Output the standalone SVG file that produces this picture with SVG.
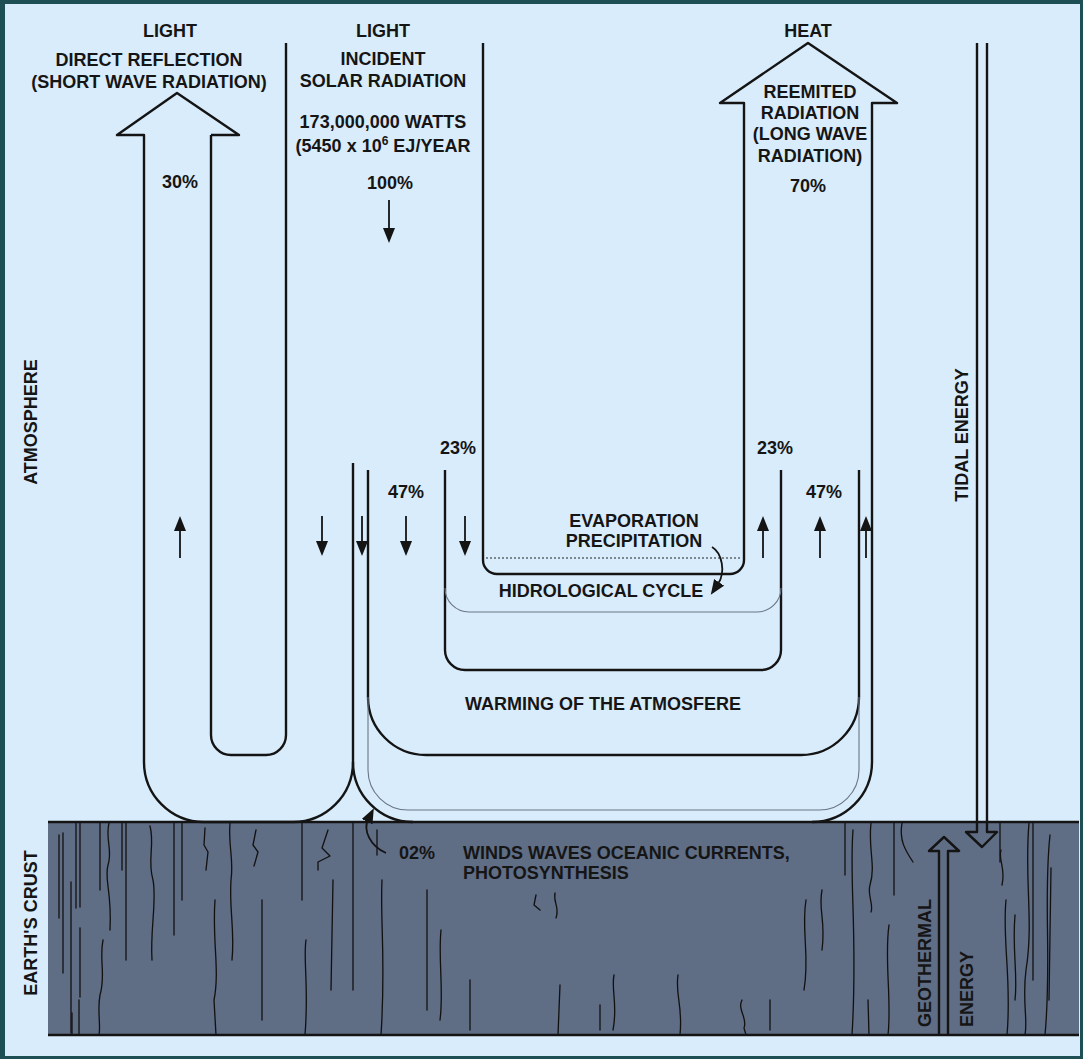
<svg xmlns="http://www.w3.org/2000/svg" width="1083" height="1059" viewBox="0 0 1083 1059">
<defs>
<style>
.ln{fill:none;stroke:#141414;stroke-width:2.4;stroke-linejoin:round}
.thin{fill:none;stroke:#6b7686;stroke-width:1.1}
.dot{fill:none;stroke:#222;stroke-width:1.2;stroke-dasharray:2 2}
.arr{fill:none;stroke:#141414;stroke-width:1.8;marker-end:url(#ah)}
.crk{fill:none;stroke:#111;stroke-width:1.3;stroke-linecap:round;stroke-linejoin:round}
text{font-family:"Liberation Sans",Arial,sans-serif;font-weight:bold;font-size:18px;fill:#151515}
.m{text-anchor:middle}
</style>
<marker id="ah" viewBox="0 -6 15 12" markerWidth="15" markerHeight="12" refX="2" refY="0" orient="auto" markerUnits="userSpaceOnUse">
<path d="M0,-6 L15,0 L0,6 z" fill="#141414"/>
</marker>
</defs>

<rect x="0" y="0" width="1083" height="1059" fill="#1e4f55"/>
<rect x="5" y="4" width="1075" height="1052" fill="#d9ecfb"/>

<g id="earths-crust">
<rect x="48" y="822" width="1031" height="213" fill="#5f6d85"/>
<g id="cracks">
<path class="crk" d="M59,835 L59,918"/>
<path class="crk" d="M63,833 L63,973"/>
<path class="crk" d="M71,882 L71,1033"/>
<path class="crk" d="M76,823 L76,908"/>
<path class="crk" d="M80,823 L80,907"/>
<path class="crk" d="M80,928 L80,997"/>
<path class="crk" d="M79,1000 L79,1035"/>
<path class="crk" d="M72,1013 L72,1035"/>
<path class="crk" d="M100,823 L100,890"/>
<path class="crk" d="M109,823 C105,840 113,850 108,865 C104,880 112,890 110,930"/>
<path class="crk" d="M103,940 C99,960 106,975 100,995 C97,1010 101,1025 99,1035"/>
<path class="crk" d="M122,823 L122,870"/>
<path class="crk" d="M126,823 L126,960"/>
<path class="crk" d="M150,826 C155,845 147,860 153,880 C157,900 150,930 152,960"/>
<path class="crk" d="M174,823 L174,935"/>
<path class="crk" d="M182,823 L182,900"/>
<path class="crk" d="M205,828 L204,845 L208,852 L206,870"/>
<path class="crk" d="M215,900 C212,940 220,970 214,1000 L216,1035"/>
<path class="crk" d="M230,823 C228,845 234,860 231,880 C229,910 235,930 232,960"/>
<path class="crk" d="M256,830 L253,845 L258,852 L254,866"/>
<path class="crk" d="M262,900 L262,1020"/>
<path class="crk" d="M302,823 L302,900"/>
<path class="crk" d="M306,940 C303,960 309,985 305,1035"/>
<path class="crk" d="M328,830 L322,848 L330,856 L318,862 L318,870"/>
<path class="crk" d="M333,880 L331,990"/>
<path class="crk" d="M353,823 L353,990"/>
<path class="crk" d="M377,830 L377,855"/>
<path class="crk" d="M382,880 C380,920 386,960 381,1035"/>
<path class="crk" d="M427,890 L427,1010"/>
<path class="crk" d="M441,930 C438,960 444,990 440,1020"/>
<path class="crk" d="M470,980 L470,1030"/>
<path class="crk" d="M536,895 L534,905 L540,910"/>
<path class="crk" d="M555,893 C553,903 560,907 556,918"/>
<path class="crk" d="M560,985 L558,1035"/>
<path class="crk" d="M600,1005 L600,1030"/>
<path class="crk" d="M614,975 C611,990 618,1005 613,1030"/>
<path class="crk" d="M678,975 C675,995 683,1005 680,1035"/>
<path class="crk" d="M742,1000 C737,1010 748,1018 744,1028 L746,1035"/>
<path class="crk" d="M770,1000 L770,1030"/>
<path class="crk" d="M806,900 C801,930 810,955 804,990"/>
<path class="crk" d="M822,890 C818,910 826,920 822,950"/>
<path class="crk" d="M845,823 L845,875"/>
<path class="crk" d="M853,830 C849,880 858,940 852,1035"/>
<path class="crk" d="M871,823 C868,850 876,865 870,885 C867,895 874,905 871,912"/>
<path class="crk" d="M868,1000 L869,1035"/>
<path class="crk" d="M889,925 C884,960 892,1000 888,1035"/>
<path class="crk" d="M902,823 C899,840 905,850 913,862"/>
<path class="crk" d="M894,823 L894,895"/>
<path class="crk" d="M1001,850 C998,860 1006,868 1002,885"/>
<path class="crk" d="M1000,823 L1000,862"/>
<path class="crk" d="M1006,900 C1002,940 1012,980 1007,1035"/>
<path class="crk" d="M1015,915 C1012,950 1018,975 1015,1000"/>
<path class="crk" d="M1029,823 C1024,880 1034,920 1026,970 C1022,1000 1028,1020 1025,1035"/>
<path class="crk" d="M1033,823 L1033,980"/>
<path class="crk" d="M1050,835 C1043,900 1052,960 1045,1035"/>
<path class="crk" d="M1051,868 L1049,1000"/>
</g>
<path class="ln" d="M48,822 L1079,822"/>
<path class="ln" d="M48,1035 L1079,1035"/>
</g>

<g id="direct-reflection">
<path class="ln" d="M211,135 L239,135 L177,93 L117,135 L144,135 L144,762 A60,60 0 0 0 204,822 L293,822 A60,60 0 0 0 353,762 L353,463"/>
<path class="ln" d="M211,135 L211,735 A20,20 0 0 0 231,755 L266,755 A20,20 0 0 0 286,735 L286,43"/>
<text class="m" x="170" y="37">LIGHT</text>
<text class="m" x="149" y="66">DIRECT REFLECTION</text>
<text class="m" x="149" y="88">(SHORT WAVE RADIATION)</text>
<text class="m" x="180" y="188">30%</text>
</g>

<g id="incident-and-reemitted">
<path class="ln" d="M483,43 L483,560 A14,14 0 0 0 497,574 L730,574 A14,14 0 0 0 744,560 L744,103 L720,103 L808,43 L897,103 L872,103 L872,762 A60,60 0 0 1 812,822"/>
<path class="ln" d="M353,762 A60,60 0 0 0 413,822"/>
<text class="m" x="383" y="37">LIGHT</text>
<text class="m" x="383" y="65">INCIDENT</text>
<text class="m" x="383" y="87">SOLAR RADIATION</text>
<text class="m" x="383" y="128">173,000,000 WATTS</text>
<text class="m" x="383" y="152">(5450 x 10<tspan dy="-7" font-size="12">6</tspan><tspan dy="7"> EJ/YEAR</tspan></text>
<text class="m" x="390" y="189">100%</text>
<text class="m" x="808" y="37">HEAT</text>
<text class="m" x="810" y="98">REEMITED</text>
<text class="m" x="810" y="119">RADIATION</text>
<text class="m" x="810" y="140">(LONG WAVE</text>
<text class="m" x="810" y="162">RADIATION)</text>
<text class="m" x="808" y="192">70%</text>
</g>

<g id="warming-of-atmosphere">
<path class="ln" d="M368,470 L368,697 A58,58 0 0 0 426,755 L801,755 A58,58 0 0 0 859,697 L859,470"/>
<path class="thin" d="M368,697 L368,770 A40,40 0 0 0 408,810 L819,810 A40,40 0 0 0 859,770 L859,697"/>
<text class="m" x="406" y="498">47%</text>
<text class="m" x="824" y="498">47%</text>
<text class="m" x="603" y="710">WARMING OF THE ATMOSFERE</text>
</g>

<g id="hydrological-cycle">
<path class="ln" d="M445,470 L445,650 A20,20 0 0 0 465,670 L761,670 A20,20 0 0 0 781,650 L781,470"/>
<path class="thin" d="M445,588 A24,24 0 0 0 469,612 L757,612 A24,24 0 0 0 781,588"/>
<path class="dot" d="M486,558 L742,558"/>
<text class="m" x="458" y="454">23%</text>
<text class="m" x="775" y="454">23%</text>
<text class="m" x="634" y="527">EVAPORATION</text>
<text class="m" x="634" y="547">PRECIPITATION</text>
<text class="m" x="601" y="597">HIDROLOGICAL CYCLE</text>
</g>

<g id="winds-waves">
<text x="399" y="859">02%</text>
<text x="463" y="859">WINDS WAVES OCEANIC CURRENTS,</text>
<text x="463" y="879">PHOTOSYNTHESIS</text>
</g>

<g id="tidal-energy">
<path class="ln" d="M977,43 L977,832 L966,832 L982,847 L997,832 L987,832 L987,43"/>
<text class="m" transform="translate(968,435) rotate(-90)">TIDAL ENERGY</text>
</g>

<g id="geothermal-energy">
<path class="ln" d="M939,1035 L939,851 L929,851 L944,837 L959,851 L948,851 L948,1035"/>
<text transform="translate(931,1027) rotate(-90)">GEOTHERMAL</text>
<text transform="translate(973,1027) rotate(-90)">ENERGY</text>
</g>

<g id="labels">
<text class="m" transform="translate(37,422) rotate(-90)">ATMOSPHERE</text>
<text class="m" transform="translate(37,923) rotate(-90)">EARTH'S CRUST</text>
</g>

<g id="connectors">
<path class="arr" d="M389,200 L389,230"/>
<path class="arr" d="M322,516 L322,543"/>
<path class="arr" d="M362,516 L362,543"/>
<path class="arr" d="M406,516 L406,543"/>
<path class="arr" d="M465,516 L465,543"/>
<path class="arr" d="M180,558 L180,529"/>
<path class="arr" d="M763,558 L763,529"/>
<path class="arr" d="M820,558 L820,529"/>
<path class="arr" d="M866,558 L866,529"/>
<path class="arr" d="M712,547 C722,553 726,572 718,584"/>
<path class="arr" d="M386,853 C370,846 363,830 368,820"/>
</g>
</svg>
